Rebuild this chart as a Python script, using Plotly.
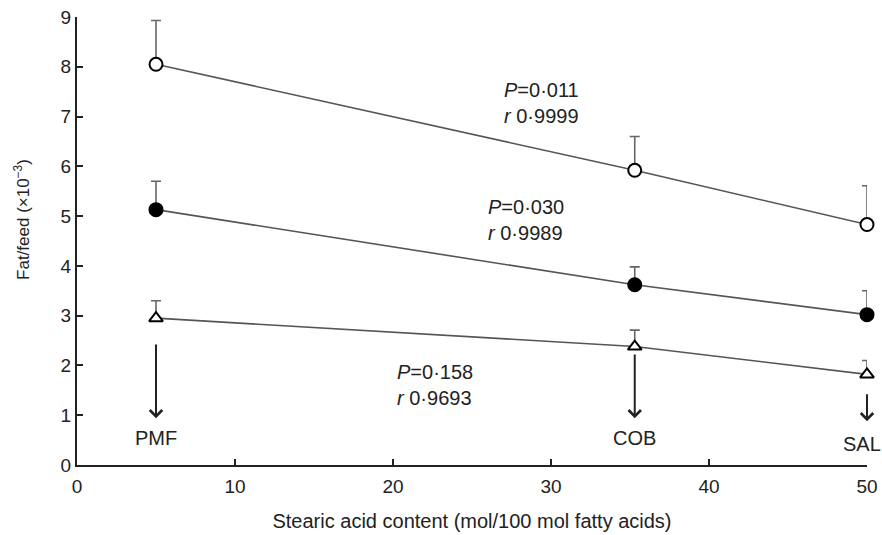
import plotly.graph_objects as go

stearic = [5, 35.3, 50]
labels = ["PMF", "COB", "SAL"]
open_circle = [8.05, 5.92, 4.83]
open_circle_err = [0.88, 0.68, 0.78]
filled_circle = [5.13, 3.62, 3.02]
filled_circle_err = [0.57, 0.36, 0.48]
triangle = [2.95, 2.38, 1.82]
triangle_err = [0.35, 0.33, 0.28]

stats = [("<i>P</i>=0·011", "<i>r</i> 0·9999", 26.9, 7.28),
         ("<i>P</i>=0·030", "<i>r</i> 0·9989", 25.9, 4.92),
         ("<i>P</i>=0·158", "<i>r</i> 0·9693", 20.1, 1.60)]
arrow_top = [2.45, 2.25, 1.45]
arrow_bottom = [0.94, 0.94, 0.88]
label_y = [0.54, 0.54, 0.42]
label_shift = [0, 0, -5]

font = "Liberation Sans, Arial, sans-serif"
ink = "#222222"
fig = go.Figure()

series = [
    (open_circle, open_circle_err, "circle", "white"),
    (filled_circle, filled_circle_err, "circle", "black"),
    (triangle, triangle_err, "triangle-up", "white"),
]
for y, err, sym, fill in series:
    fig.add_trace(go.Scatter(
        x=stearic, y=y, mode="lines+markers",
        line=dict(color="#555555", width=1.6),
        marker=dict(symbol=sym, size=13 if sym == "circle" else 12, color=fill,
                    line=dict(color="black", width=2)),
        error_y=dict(type="data", symmetric=False, array=err,
                     arrayminus=[0] * len(err), color="#666666",
                     thickness=1.6, width=5),
        showlegend=False, cliponaxis=False,
    ))

for p, r, x, y in stats:
    fig.add_annotation(x=x, y=y, text=p + "<br>" + r, showarrow=False,
                       xanchor="left", align="left",
                       font=dict(family=font, size=20, color=ink))

for x, lab, top, bot, ly, sh in zip(stearic, labels, arrow_top, arrow_bottom, label_y, label_shift):
    fig.add_annotation(x=x, y=bot, ax=x, ay=top, axref="x", ayref="y",
                       xref="x", yref="y", text="", showarrow=True,
                       arrowhead=4, arrowsize=1.2, arrowwidth=2, arrowcolor=ink)
    fig.add_annotation(x=x, y=ly, text=lab, showarrow=False, xshift=sh,
                       font=dict(family=font, size=20, color=ink))

fig.add_annotation(xref="paper", yref="paper", x=-0.0696, y=0.547,
                   xanchor="center", yanchor="middle",
                   text="Fat/feed (×10<sup>−3</sup>)", textangle=-90,
                   showarrow=False, font=dict(family=font, size=17, color=ink))

axis_common = dict(showline=True, linecolor=ink, linewidth=2,
                   ticks="inside", ticklen=6, tickwidth=2, tickcolor=ink,
                   showgrid=False, zeroline=False, automargin=False,
                   tickfont=dict(family=font, size=19, color=ink))
fig.update_xaxes(range=[0, 50], tickvals=[0, 10, 20, 30, 40, 50],
                 ticklabelstandoff=3,
                 title=dict(text="Stearic acid content (mol/100 mol fatty acids)",
                            font=dict(family=font, size=20, color=ink), standoff=18),
                 **axis_common)
fig.update_yaxes(range=[0, 9], tickvals=list(range(10)), **axis_common)
fig.update_layout(width=882, height=535, plot_bgcolor="white", paper_bgcolor="white",
                  margin=dict(l=77, r=15, t=17, b=70))
fig.write_html("out.html", config={"displayModeBar": False},
               post_script="document.body.style.margin='0px';document.body.style.overflow='hidden';")
